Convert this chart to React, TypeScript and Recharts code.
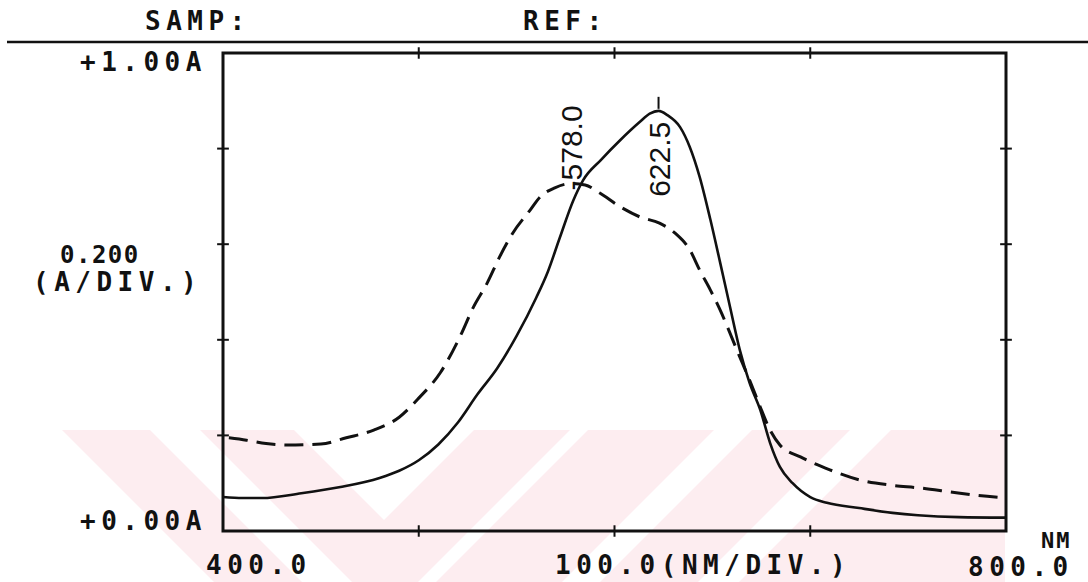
import { LineChart, Line, XAxis, YAxis, ReferenceLine, ReferenceDot, ReferenceArea } from "recharts"

// sample scan (solid trace)
const sampleNm = [
  400, 410, 420, 440, 460, 480, 490, 500, 510, 520, 530, 540, 550, 560, 566, 572, 579, 584,
  593, 603, 613, 618, 622.5, 627, 633.5, 638.5, 643.5, 649, 654, 659, 664, 669, 674.5, 679.5,
  684.5, 691, 700, 708.5, 725, 742, 755, 776, 800,
]
const sampleAbs = [
  0.071, 0.069, 0.069, 0.079, 0.092, 0.111, 0.126, 0.148, 0.181, 0.227, 0.286, 0.34, 0.408,
  0.488, 0.543, 0.613, 0.692, 0.734, 0.776, 0.818, 0.856, 0.873, 0.879, 0.87, 0.845, 0.803, 0.741,
  0.651, 0.561, 0.469, 0.379, 0.31, 0.253, 0.184, 0.134, 0.1, 0.071, 0.059, 0.048, 0.038, 0.033,
  0.029, 0.028,
]

// reference scan (dashed trace)
const refNm = [
  403, 412, 422, 433, 450, 463, 477, 490, 500, 511, 521, 528, 535, 541.5, 548, 557, 562, 569.5,
  578, 585, 592.5, 603, 613, 623, 631, 638.5, 643.5, 649, 654, 659, 664, 669, 674.5, 679.5,
  684.5, 695, 710, 725, 741, 756, 771, 784, 800,
]
const refAbs = [
  0.195, 0.19, 0.183, 0.18, 0.182, 0.195, 0.211, 0.238, 0.278, 0.331, 0.406, 0.469, 0.519,
  0.575, 0.623, 0.672, 0.699, 0.718, 0.727, 0.724, 0.707, 0.678, 0.657, 0.644, 0.623, 0.588,
  0.546, 0.504, 0.462, 0.414, 0.364, 0.316, 0.259, 0.211, 0.18, 0.155, 0.128, 0.107, 0.096,
  0.09, 0.082, 0.075, 0.069,
]

const nmTicks = [500, 600, 700]
const absTicks = [0.2, 0.4, 0.6, 0.8]
const sampleData = sampleNm.map((nm, i) => ({ nm, abs: sampleAbs[i] }))
const refData = refNm.map((nm, i) => ({ nm, abs: refAbs[i] }))
const samplePeak = sampleData[sampleNm.indexOf(622.5)]
const refPeak = refData[refNm.indexOf(578)]

const INK = "#111"
const printer = {
  fontFamily: "'DejaVu Sans Mono', monospace",
  fontWeight: 700,
  fontSize: 26,
  letterSpacing: 5.5,
  fill: INK,
}
const peakFont = { fontFamily: "'Liberation Sans', Arial, sans-serif", fontSize: 30, fill: INK }

function Watermark() {
  return (
    <svg width={1088} height={582} style={{ position: "absolute", left: 0, top: 0 }}>
      <polygon points="62,430 1005,430 1005,582 214,582" fill="#fdedf0" />
      <g fill="#fff">
        <polygon points="150,430 200,430 352,582 302,582" />
        <polygon points="294,430 474,430 384,520" />
        <polygon points="570,430 588,430 436,582 418,582" />
        <polygon points="714,430 752,430 600,582 562,582" />
        <polygon points="850,430 891,430 739,582 698,582" />
      </g>
    </svg>
  )
}

function PrintedText() {
  return (
    <svg width={1088} height={582} style={{ position: "absolute", left: 0, top: 0, pointerEvents: "none" }}>
      <line x1={7} y1={42} x2={1088} y2={42} stroke={INK} strokeWidth={2.5} />
      <text x={145} y={30} {...printer}>SAMP:</text>
      <text x={523} y={30} {...printer}>REF:</text>
      <text x={80} y={71} {...printer}>+1.00A</text>
      <text x={60} y={263} {...printer} fontSize={24} letterSpacing={1.5}>0.200</text>
      <text x={33} y={291} {...printer}>(A/DIV.)</text>
      <text x={80} y={530} {...printer}>+0.00A</text>
      <text x={206} y={574} {...printer}>400.0</text>
      <text x={555} y={574} {...printer}>100.0(NM/DIV.)</text>
      <text x={1041} y={548} {...printer} fontSize={22} letterSpacing={2}>NM</text>
      <text x={968} y={576} {...printer}>800.0</text>
    </svg>
  )
}

// rotated wavelength label; the leading "-" doubles as the peak marker
const RefPeakLabel = ({ cx, cy }: any) => (
  <text transform={`translate(${cx + 11}, ${cy + 7}) rotate(-90)`} {...peakFont}>
    -{refPeak.nm.toFixed(1)}
  </text>
)

const SamplePeakLabel = ({ cx, cy }: any) => (
  <g>
    <line x1={cx} y1={cy - 14} x2={cx} y2={cy - 2} stroke={INK} strokeWidth={2} />
    <text transform={`translate(${cx + 11}, ${cy + 86}) rotate(-90)`} {...peakFont}>
      {samplePeak.nm.toFixed(1)}
    </text>
  </g>
)

export default function App() {
  return (
    <div style={{ position: "absolute", left: 0, top: 0, width: 1088, height: 582, background: "#fff" }}>
      <Watermark />
      <div style={{ position: "absolute", left: 0, top: 0 }}>
        <LineChart width={1088} height={582} margin={{ top: 53, right: 82, bottom: 51, left: 223 }}>
          <XAxis xAxisId="nm" type="number" dataKey="nm" domain={[400, 800]} allowDataOverflow hide />
          <YAxis yAxisId="abs" type="number" domain={[0, 1]} allowDataOverflow hide />

          {/* plot frame */}
          <ReferenceArea xAxisId="nm" yAxisId="abs" x1={400} x2={800} y1={0} y2={1} ifOverflow="visible"
            fill="none" stroke={INK} strokeWidth={3} />

          {nmTicks.map((t) => (
            <ReferenceLine key={"b" + t} xAxisId="nm" yAxisId="abs" ifOverflow="visible"
              segment={[{ x: t, y: -0.012 }, { x: t, y: 0.012 }]} stroke={INK} strokeWidth={2} />
          ))}
          {nmTicks.map((t) => (
            <ReferenceLine key={"t" + t} xAxisId="nm" yAxisId="abs" ifOverflow="visible"
              segment={[{ x: t, y: 0.988 }, { x: t, y: 1.012 }]} stroke={INK} strokeWidth={2} />
          ))}
          {absTicks.map((t) => (
            <ReferenceLine key={"l" + t} xAxisId="nm" yAxisId="abs" ifOverflow="visible"
              segment={[{ x: 397, y: t }, { x: 403, y: t }]} stroke={INK} strokeWidth={2} />
          ))}
          {absTicks.map((t) => (
            <ReferenceLine key={"r" + t} xAxisId="nm" yAxisId="abs" ifOverflow="visible"
              segment={[{ x: 797, y: t }, { x: 803, y: t }]} stroke={INK} strokeWidth={2} />
          ))}

          <Line xAxisId="nm" yAxisId="abs" data={refData} dataKey="abs" type="monotone"
            stroke={INK} strokeWidth={3} strokeDasharray="19 9" dot={false} isAnimationActive={false} />
          <Line xAxisId="nm" yAxisId="abs" data={sampleData} dataKey="abs" type="monotone"
            stroke={INK} strokeWidth={2.6} dot={false} isAnimationActive={false} />

          <ReferenceDot xAxisId="nm" yAxisId="abs" x={refPeak.nm} y={refPeak.abs} ifOverflow="visible"
            shape={RefPeakLabel} />
          <ReferenceDot xAxisId="nm" yAxisId="abs" x={samplePeak.nm} y={samplePeak.abs} ifOverflow="visible"
            shape={SamplePeakLabel} />
        </LineChart>
      </div>
      <PrintedText />
    </div>
  )
}
